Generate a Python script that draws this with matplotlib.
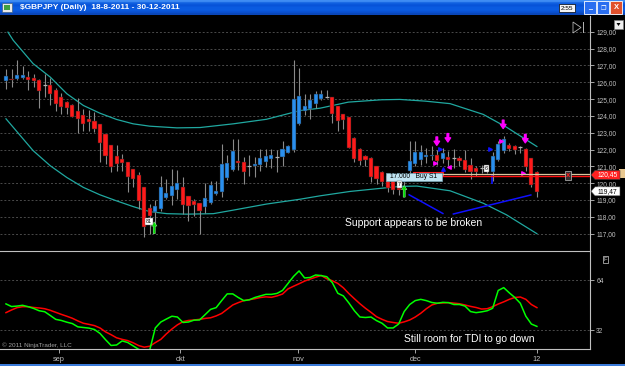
import matplotlib
matplotlib.use('Agg')
import matplotlib.pyplot as plt
from matplotlib.patches import Rectangle, Polygon

W, H = 625, 366

# daily GBPJPY bars, 18-8-2011 .. 30-12-2011 (bar index 0..96)
opens = [126.09, 126.22, 126.17, 126.26, 126.34, 126.24, 126.13, 125.85, 125.85, 125.57,
         125.12, 124.80, 124.65, 124.29, 124.06, 123.80, 123.72, 123.50, 122.95, 122.26,
         121.61, 121.41, 121.29, 120.82, 120.50, 119.76, 118.53, 118.28, 118.47, 119.10,
         119.26, 119.60, 119.79, 119.24, 118.95, 118.81, 118.57, 118.83, 119.36, 119.46,
         120.29, 120.78, 121.33, 121.29, 121.04, 121.00, 121.10, 121.29, 121.43, 121.57,
         121.55, 121.81, 122.00, 123.50, 124.29, 124.43, 124.69, 125.00, 125.12, 125.12,
         124.59, 124.13, 123.94, 122.71, 122.05, 121.60, 121.50, 121.00, 120.65, 120.40,
         120.15, 119.70, 120.10, 120.74, 121.14, 121.35, 121.57, 121.61, 121.65, 121.43,
         121.57, 121.47, 121.47, 121.37, 121.08, 120.90, 120.88, 120.85, 120.68, 121.39,
         121.94, 122.26, 122.20, 122.14, 122.02, 121.47, 120.64]
highs = [126.76, 126.78, 127.35, 126.95, 126.70, 126.52, 126.22, 126.52, 126.26, 125.67,
         125.34, 124.88, 124.69, 125.04, 124.39, 124.35, 124.21, 123.50, 122.95, 122.26,
         122.26, 121.73, 121.29, 120.82, 120.64, 119.76, 118.77, 119.01, 120.45, 120.25,
         120.84, 120.78, 120.35, 119.24, 119.07, 118.81, 119.99, 120.15, 120.11, 122.36,
         121.67, 122.62, 122.62, 121.57, 121.67, 121.53, 122.06, 122.06, 122.02, 121.98,
         122.52, 122.25, 127.31, 126.82, 125.28, 125.28, 125.51, 125.57, 125.57, 125.12,
         124.59, 124.13, 123.94, 122.75, 122.08, 121.65, 121.55, 121.00, 120.70, 120.45,
         120.20, 119.90, 120.60, 122.52, 122.50, 122.30, 122.10, 122.20, 122.00, 122.10,
         121.90, 122.05, 121.60, 121.96, 121.47, 121.00, 121.08, 121.00, 121.88, 122.50,
         122.79, 122.40, 122.30, 122.20, 122.10, 121.50, 120.70]
lows = [125.61, 125.71, 126.11, 126.20, 125.55, 125.73, 124.45, 125.12, 124.63, 124.27,
        124.09, 124.13, 123.94, 123.01, 123.11, 123.11, 123.05, 121.25, 121.14, 120.68,
        120.74, 120.74, 119.46, 119.76, 118.47, 116.80, 117.00, 117.59, 118.37, 119.07,
        118.73, 119.07, 118.18, 117.78, 118.04, 117.00, 118.22, 118.77, 119.32, 119.20,
        120.20, 120.70, 120.78, 119.95, 120.41, 120.35, 120.70, 120.94, 120.88, 120.64,
        121.04, 121.78, 121.83, 123.45, 124.06, 123.84, 124.49, 124.92, 125.04, 123.60,
        123.11, 123.20, 122.08, 121.25, 121.10, 121.00, 120.05, 119.95, 119.85, 119.45,
        119.36, 119.30, 119.90, 120.60, 121.00, 121.10, 121.20, 121.40, 121.10, 121.20,
        121.00, 120.88, 121.00, 120.64, 120.25, 120.40, 120.58, 120.60, 120.11, 121.30,
        121.80, 121.90, 121.75, 121.80, 120.70, 119.78, 119.20]
closes = [126.40, 126.11, 126.42, 126.44, 126.11, 126.05, 125.48, 125.85, 125.28, 124.69,
          124.51, 124.49, 123.96, 123.84, 123.54, 123.64, 123.25, 122.38, 121.63, 120.94,
          121.14, 121.20, 120.35, 120.25, 118.97, 117.39, 118.04, 118.63, 119.76, 119.44,
          119.85, 120.01, 118.71, 118.67, 118.71, 118.34, 119.12, 119.89, 119.52, 121.14,
          121.20, 121.93, 121.23, 120.68, 121.04, 121.14, 121.51, 121.63, 121.67, 121.57,
          122.06, 122.22, 124.98, 125.18, 124.59, 124.92, 125.28, 125.32, 125.12, 124.09,
          123.70, 123.74, 122.12, 121.43, 121.30, 121.35, 120.35, 120.25, 120.05, 119.70,
          119.60, 119.60, 120.45, 121.33, 121.83, 121.83, 121.65, 121.69, 121.30, 121.77,
          121.35, 121.47, 121.31, 120.78, 120.68, 120.68, 120.88, 120.75, 121.63, 122.32,
          122.63, 122.06, 121.98, 122.14, 120.94, 119.91, 119.47]

# TDI panel
tdi_green = [48.9, 47.2, 47.5, 48.0, 47.1, 46.0, 44.5, 43.9, 41.5, 39.0,
             38.3, 37.2, 36.3, 34.2, 33.8, 33.4, 32.5, 30.0, 26.0, 22.3,
             22.6, 25.2, 24.2, 22.0, 19.8, 18.5, 19.5, 33.5, 37.3, 39.2,
             41.0, 40.5, 37.0, 37.3, 38.5, 38.6, 42.0, 45.4, 46.5, 51.0,
             55.3, 55.3, 53.0, 51.0, 51.5, 53.0, 54.0, 55.0, 55.0, 55.6,
             57.5, 62.0, 66.5, 70.0, 65.5, 65.8, 67.4, 67.0, 66.3, 62.5,
             55.7, 54.0, 49.5, 44.5, 40.5, 40.2, 40.5, 38.2, 36.5, 33.5,
             33.5, 36.0, 44.0, 48.5, 51.0, 51.8, 51.0, 49.8, 49.3, 49.9,
             49.7, 48.5, 48.5, 47.5, 44.0, 43.3, 43.8, 44.5, 46.1, 57.5,
             59.3, 56.0, 53.0, 49.3, 41.0, 36.0, 34.5]
tdi_red = [43.3, 45.0, 46.5, 47.1, 47.1, 46.6, 46.3, 45.8, 44.8, 43.5,
           42.2, 41.0, 39.7, 38.0, 36.5, 35.8, 35.0, 33.5, 31.0, 29.2,
           27.2, 26.2, 25.4, 24.0, 22.2, 21.2, 21.8, 24.1, 26.2, 29.7,
           32.8, 35.5, 37.5, 38.3, 38.6, 39.0, 39.6, 40.0, 41.2, 42.8,
           45.5, 48.2, 49.7, 51.0, 51.6, 52.2, 53.0, 53.4, 53.1, 54.0,
           55.2, 58.5, 60.2, 61.8, 63.5, 64.8, 66.0, 67.1, 65.0, 63.7,
           62.0, 59.2, 55.5, 52.2, 49.0, 46.1, 43.5, 40.7, 39.0, 37.6,
           37.0, 36.5, 37.4, 38.6, 40.5, 42.9, 45.8, 48.2, 49.3, 49.5,
           49.7, 49.4, 49.0, 48.2, 47.3, 46.6, 45.6, 45.8, 47.1, 48.8,
           50.2, 51.8, 53.0, 53.3, 51.8, 48.5, 46.5]

# regression channel (bar, price) readings
upper_x = [0.36, 1.3, 4.9, 8, 11, 14, 17, 20, 23, 26, 30.9, 35.1, 41.1, 47.1,
           53.2, 56.8, 61.9, 67.9, 71.2, 75.8, 80.3, 86.3, 90.5, 96]
upper_y = [128.98, 128.50, 127.11, 126.31, 125.32, 124.62, 124.16, 123.79, 123.53,
           123.39, 123.29, 123.31, 123.53, 123.80, 124.32, 124.46, 124.82, 124.96,
           124.98, 124.88, 124.73, 124.09, 123.33, 122.18]
lower_x = [0, 4.9, 8, 11, 14, 17, 20, 23, 26, 29.1, 32.7, 37.5, 41.1, 47.1, 53.2,
           56.8, 62.2, 71.2, 74.3, 80.3, 86.3, 90.5, 96]
lower_y = [123.83, 121.94, 121.04, 120.34, 119.75, 119.31, 118.95, 118.61, 118.31,
           118.19, 118.16, 118.19, 118.40, 118.76, 119.05, 119.25, 119.51, 119.81,
           119.83, 119.55, 118.81, 118.12, 117.00]

month_pos = [9.5, 31.5, 52.8, 74.0, 96.0]
month_lbl = ['sep', 'okt', 'nov', 'dec', '12']

sell_arrows = [(77.9, 122.75), (79.9, 122.95), (89.9, 123.75), (93.9, 122.90)]
buy_arrows = [(26.8, 117.0), (72.0, 119.17)]
support_lines = [((72.9, 79.0), (119.31, 118.20)), ((80.9, 94.9), (118.17, 119.30))]

pos_price = 120.45
avg_price = 120.55
last_price = 119.47

BLUE = '#2a8fee'
RED = '#ff1a1a'
GRAY = '#c0c0c0'


def fx(x):
    return x / W


def fy(y):
    return 1 - y / H


fig = plt.figure(figsize=(W / 100, H / 100), dpi=100, facecolor='black')
plt.rcParams['font.family'] = ['Liberation Sans', 'DejaVu Sans']

ax = fig.add_axes([0, fy(251), fx(590), (251 - 16) / H], facecolor='black')
ax2 = fig.add_axes([0, fy(349), fx(590), (349 - 251) / H], facecolor='black')
for a in (ax, ax2):
    a.set_xlim(-1.08, 105.6)
    for s in a.spines.values():
        s.set_visible(False)
    a.spines['right'].set_visible(True)
    a.spines['right'].set_color(GRAY)
    a.spines['right'].set_linewidth(0.8)
    a.yaxis.tick_right()
    a.tick_params(axis='y', colors=GRAY, labelsize=4.8, length=3, width=0.6, pad=1.5)

# ---- price panel ----
ax.set_ylim(115.97, 129.94)
ax.set_yticks(range(117, 130))
ax.set_yticklabels([f'{v:.2f}'.replace('.', ',') for v in range(117, 130)])
ax.set_xticks([])
ax.grid(axis='y', color='#4a4a4a', linestyle=(0, (2, 2)), linewidth=0.7)
ax.set_axisbelow(True)

ax.plot(upper_x, upper_y, color='#20a8a0', lw=0.9)
ax.plot(lower_x, lower_y, color='#20a8a0', lw=0.9)

for i, (o, h, l, c) in enumerate(zip(opens, highs, lows, closes)):
    ax.vlines(i, l, h, color='#8a8a8a', lw=0.8, zorder=2)
    if abs(c - o) < 0.02:
        ax.hlines(o, i - 0.36, i + 0.36, color='#b0b0b0', lw=0.9, zorder=3)
        continue
    col = BLUE if c > o else RED
    ax.bar(i, abs(c - o), bottom=min(o, c), width=0.74, color=col,
           edgecolor='#202020', linewidth=0.35, zorder=3)

for (xs, ys) in support_lines:
    ax.plot(xs, ys, color='#1010ff', lw=1.1, zorder=4)

for x, y in sell_arrows:
    ax.annotate('', xy=(x, y - 0.5), xytext=(x, y),
                arrowprops=dict(facecolor='#ff00ff', edgecolor='#ff00ff',
                                width=1.2, headwidth=4, headlength=3), zorder=5)
for x, y in buy_arrows:
    ax.annotate('', xy=(x, y + 0.7), xytext=(x, y),
                arrowprops=dict(facecolor='#00e000', edgecolor='#b0ffb0',
                                linewidth=0.3, width=1.5, headwidth=4, headlength=3), zorder=5)

# small signal markers
ax.scatter([78.5, 87.5], [122.05, 122.05], marker='>', s=6, color='#1010ff', zorder=5)
ax.scatter([77.6, 89.5, 93.4], [121.22, 122.53, 120.62], marker='>', s=6, color='#ff00ff', zorder=5)
ax.scatter([80.1], [120.98], marker='<', s=6, color='#ff00ff', zorder=5)
ax.scatter([79.0], [120.86], marker='^', s=6, color='#1010ff', zorder=5)
ax.vlines(87.8, 119.95, 120.55, color='#1010ff', lw=1.2, zorder=5)

# position lines and order label
ax.add_patch(Rectangle((73.6, pos_price - 0.04), 5.4, 0.24, facecolor='none',
                       edgecolor='#ff2020', lw=0.8, zorder=5))
ax.hlines(avg_price, 78.8, 105.6, color='#d8c8a0', lw=0.9, zorder=5)
ax.hlines(pos_price, 73.6, 105.6, color='#ff1010', lw=1.0, zorder=5)
ax.add_patch(Rectangle((68.7, 120.12), 10.1, 0.5, facecolor='#bfe4f2',
                       edgecolor='#7aa8b8', lw=0.5, zorder=6))
ax.text(73.75, 120.37, '17.000   Buy S1', fontsize=4.8, color='black',
        ha='center', va='center', zorder=7)
ax.text(101.6, pos_price, 'x', fontsize=5.5, color='#ff2020', fontweight='bold',
        ha='center', va='center', zorder=7,
        bbox=dict(boxstyle='square,pad=0.15', facecolor='#303030', edgecolor='#c0c0c0', lw=0.5))

for x, y, t in [(25.9, 117.73, '81'), (71.2, 119.91, '7\''), (86.9, 120.86, '6\'')]:
    ax.text(x, y, t, fontsize=3.8, color='black', ha='center', va='center', zorder=7,
            bbox=dict(boxstyle='square,pad=0.15', facecolor='white', edgecolor='#606060', lw=0.3))

ax.text(61.3, 117.63, 'Support appears to be broken', fontsize=7.5, color='white',
        ha='left', va='center', zorder=7)

# ---- TDI panel ----
ax2.set_ylim(20.03, 82.75)
ax2.set_yticks([32, 64])
ax2.set_yticklabels(['32', '64'])
ax2.grid(axis='y', color='#4a4a4a', linestyle=(0, (2, 2)), linewidth=0.7)
ax2.set_axisbelow(True)
for s in ('top', 'bottom'):
    ax2.spines[s].set_visible(True)
    ax2.spines[s].set_color(GRAY)
    ax2.spines[s].set_linewidth(0.8)
ax2.set_xticks(month_pos)
ax2.set_xticklabels(month_lbl)
ax2.tick_params(axis='x', colors=GRAY, labelsize=5.3, length=3, width=0.6, pad=2)

bars = range(len(tdi_red))
ax2.plot(bars, tdi_red, color='#ff0000', lw=1.1)
ax2.plot(bars, tdi_green, color='#00ff00', lw=1.1)
ax2.text(72.0, 26.75, 'Still room for TDI to go down', fontsize=7.5, color='white',
         ha='left', va='center')
fig.text(fx(2), fy(345.5), '\u00a9 2011 NinjaTrader, LLC', fontsize=4.6, color='#a0a0a0',
         va='center')

# ---- window chrome ----
tb = fig.add_axes([0, fy(15), 1, 15 / H])
tb.imshow([[0], [1], [2], [3], [4], [5], [6]], cmap=matplotlib.colors.LinearSegmentedColormap.from_list(
    'xp', ['#3f8cf3', '#0f5fe0', '#0752d8', '#0a5ae0', '#0b5ce2', '#0952d4', '#0a46b8']),
    aspect='auto', extent=(0, 1, 0, 1))
tb.axis('off')
fig.text(fx(20), fy(7.5), '$GBPJPY (Daily)  18-8-2011 - 30-12-2011', fontsize=6,
         color='white', fontweight='bold', va='center')
fig.patches.append(Rectangle((fx(2), fy(12)), fx(10), 9 / H, transform=fig.transFigure,
                             facecolor='#e8e8e8', edgecolor='#406080', lw=0.5))
fig.patches.append(Rectangle((fx(4), fy(10)), fx(6), 5 / H, transform=fig.transFigure,
                             facecolor='#40a040', edgecolor='none'))
fig.text(fx(567), fy(8), '2:55', fontsize=4.6, color='black', ha='center', va='center',
         bbox=dict(boxstyle='square,pad=0.2', facecolor='#f4f4f4', edgecolor='black', lw=0.5))
for x0, col in [(584, '#2a6ef0'), (597, '#2a6ef0'), (610, '#e0502c')]:
    fig.patches.append(Rectangle((fx(x0), fy(13.5)), fx(12), 12 / H, transform=fig.transFigure,
                                 facecolor=col, edgecolor='white', lw=0.6))
fig.text(fx(590), fy(8), '_', fontsize=5, color='white', ha='center', va='center', fontweight='bold')
fig.text(fx(603), fy(8), '\u2750', fontsize=4.5, color='white', ha='center', va='center',
         family=['DejaVu Sans'])
fig.text(fx(616), fy(7.5), 'X', fontsize=5.5, color='white', ha='center', va='center', fontweight='bold')

fig.patches.append(Rectangle((fx(614), fy(29)), fx(9), 9 / H, transform=fig.transFigure,
                             facecolor='#f0f0f0', edgecolor='#808080', lw=0.5))
fig.patches.append(Polygon([(fx(616.5), fy(23)), (fx(620.5), fy(23)), (fx(618.5), fy(26))],
                           transform=fig.transFigure, facecolor='black'))
fig.patches.append(Polygon([(fx(573), fy(22)), (fx(573), fy(33)), (fx(581), fy(27.5))],
                           transform=fig.transFigure, facecolor='none', edgecolor='#b0b0b0', lw=0.6))
fig.patches.append(Rectangle((fx(583), fy(33)), fx(1), 11 / H, transform=fig.transFigure,
                             facecolor='#b0b0b0'))
fig.text(fx(605.5), fy(259.5), 'F', fontsize=4.2, color='#d0d0d0', ha='center', va='center',
         bbox=dict(boxstyle='square,pad=0.15', facecolor='black', edgecolor='#d0d0d0', lw=0.5))


# price tags on the axis
def tag(y, text, face, tcol):
    pts = [(fx(591), fy(y)), (fx(595), fy(y - 4.5)), (fx(620), fy(y - 4.5)),
           (fx(620), fy(y + 4.5)), (fx(595), fy(y + 4.5))]
    fig.patches.append(Polygon(pts, transform=fig.transFigure, facecolor=face,
                               edgecolor='#404040', lw=0.4))
    fig.text(fx(607.5), fy(y), text, fontsize=4.8, color=tcol, ha='center', va='center')


def price_to_px(p):
    return 31.7 + (129 - p) * 16.75


fig.patches.append(Rectangle((fx(619), fy(price_to_px(avg_price) + 4.5)), fx(6), 9 / H,
                             transform=fig.transFigure, facecolor='#e8c890'))
tag(price_to_px(pos_price), f'{pos_price:.2f}'.replace('.', ','), '#ff2020', 'white')
tag(price_to_px(last_price), f'{last_price:.2f}'.replace('.', ','), 'white', 'black')

fig.patches.append(Rectangle((0, 0), 1, 2 / H, transform=fig.transFigure, facecolor='#3a7ad8'))

fig.savefig('out.png', dpi=100, facecolor='black')
